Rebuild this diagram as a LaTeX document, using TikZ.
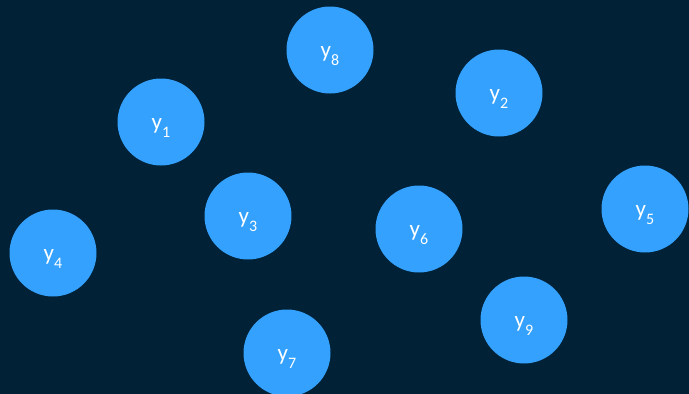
\documentclass[tikz,border=0pt]{standalone}
\usepackage{fontspec}
\setmainfont{Carlito}
\definecolor{bgc}{HTML}{012136}
\definecolor{ball}{HTML}{33A1FD}
\newcommand{\ysub}[1]{\raisebox{-7pt}[0pt][0pt]{y\raisebox{-8pt}{\fontsize{16}{16}\selectfont #1}}}
\tikzset{ballnode/.style={circle,fill=ball,draw=none,minimum size=87pt,inner sep=0pt,text=white,font=\fontsize{23}{26}\selectfont}}
\begin{document}
\begin{tikzpicture}[x=1pt,y=-1pt]
\fill[bgc] (0,0) rectangle (689,394);
\useasboundingbox (0,0) rectangle (689,394);
\node[ballnode] (y8) at (330,50) {\ysub{8}};
\node[ballnode] (y2) at (499,93) {\ysub{2}};
\node[ballnode] (y1) at (161,122) {\ysub{1}};
\node[ballnode] (y3) at (248,216) {\ysub{3}};
\node[ballnode] (y6) at (419,229) {\ysub{6}};
\node[ballnode] (y5) at (645,209) {\ysub{5}};
\node[ballnode] (y4) at (53,253) {\ysub{4}};
\node[ballnode] (y9) at (524,320) {\ysub{9}};
\node[ballnode] (y7) at (287,353) {\ysub{7}};
\end{tikzpicture}
\end{document}
